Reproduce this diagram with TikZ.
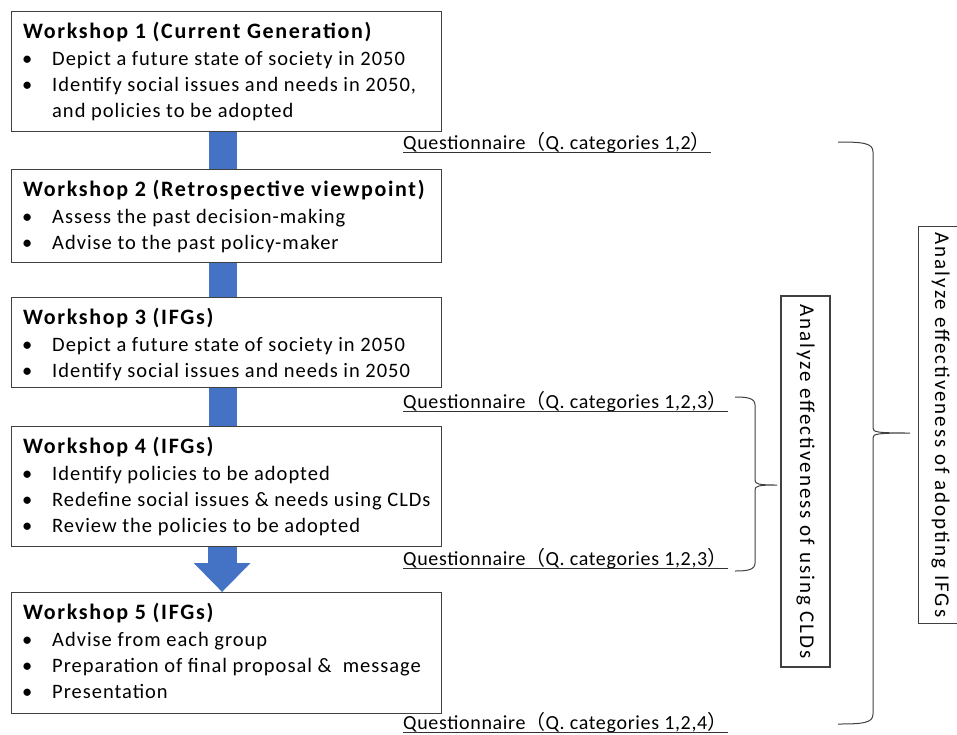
\documentclass[tikz,border=0pt]{standalone}
\usepackage{fontspec}
\setmainfont{Carlito}
\newfontfamily\cjkfont{Noto Sans CJK JP}
\usetikzlibrary{arrows.meta,calc}
\definecolor{arrowblue}{HTML}{4472C4}
\definecolor{boxline}{HTML}{404040}
\newcommand\mybrace[7]{% left-end x, vertical x, tip x, top y, tip y, bottom y, end curve length
  \draw[bracestyle] (#1,#4) .. controls (#2-#7,#4) and (#2,#4+1) .. (#2,#4+#7)
    -- (#2,#5-5) .. controls (#2,#5-1) and (#2+3,#5) .. (#3,#5)
    .. controls (#2+3,#5) and (#2,#5+1) .. (#2,#5+5)
    -- (#2,#6-#7) .. controls (#2,#6-1) and (#2-#7,#6) .. (#1,#6);}
\begin{document}
\begin{tikzpicture}[x=1pt,y=-1pt,
  wsbox/.style={draw=boxline, line width=1.2pt, minimum width=430pt, inner sep=0pt, anchor=north west},
  wtitle/.style={font=\fontsize{22}{26}\selectfont\bfseries\addfontfeatures{LetterSpace=7.6}, anchor=base west, inner sep=0pt},
  witem/.style={font=\fontsize{20.5}{24}\selectfont\addfontfeatures{LetterSpace=4.8}, anchor=base west, inner sep=0pt},
  qtext/.style={font=\fontsize{20}{24}\selectfont\addfontfeatures{LetterSpace=3.3}, anchor=base west, inner sep=0pt},
  uline/.style={line width=1pt, draw=black!80},
  shaft/.style={line width=28pt, draw=arrowblue},
  bigarrow/.style={line width=29pt, draw=arrowblue, -{Triangle[width=55pt,length=29pt]}},
  bracestyle/.style={line width=1pt, draw=black!75},
  rotbox/.style={draw=boxline, line width=1.2pt, rotate=-90, inner sep=0pt, font=\fontsize{21}{25}\selectfont\addfontfeatures{LetterSpace=9.5}}
]
\useasboundingbox (0,0) rectangle (957,734);

% workshop boxes
\node[wsbox, minimum height=120pt] (w1) at (11,11) {};
\node[wsbox, minimum height=93pt] (w2) at (11,169) {};
\node[wsbox, minimum height=90pt] (w3) at (11,297) {};
\node[wsbox, minimum height=120pt] (w4) at (11,426) {};
\node[wsbox, minimum height=121pt] (w5) at (11,592) {};

% box 1
\node[wtitle] (t1) at ($(w1.north west)+(12,27)$) {Workshop 1 (Current Generation)};
\node[witem] (b1a) at ($(w1.north west)+(11,54)$) {•};
\node[witem] (i1a) at ($(w1.north west)+(41,54)$) {Depict a future state of society in 2050};
\node[witem] (b1b) at ($(w1.north west)+(11,80)$) {•};
\node[witem] (i1b) at ($(w1.north west)+(41,80)$) {Identify social issues and needs in 2050,};
\node[witem] (i1c) at ($(w1.north west)+(41,106)$) {and policies to be adopted};

% box 2
\node[wtitle] (t2) at ($(w2.north west)+(12,27)$) {Workshop 2 (Retrospective viewpoint)};
\node[witem] (b2a) at ($(w2.north west)+(11,54)$) {•};
\node[witem] (i2a) at ($(w2.north west)+(41,54)$) {Assess the past decision-making};
\node[witem] (b2b) at ($(w2.north west)+(11,80)$) {•};
\node[witem] (i2b) at ($(w2.north west)+(41,80)$) {Advise to the past policy-maker};

% box 3
\node[wtitle] (t3) at ($(w3.north west)+(12,27)$) {Workshop 3 (IFGs)};
\node[witem] (b3a) at ($(w3.north west)+(11,54)$) {•};
\node[witem] (i3a) at ($(w3.north west)+(41,54)$) {Depict a future state of society in 2050};
\node[witem] (b3b) at ($(w3.north west)+(11,80)$) {•};
\node[witem] (i3b) at ($(w3.north west)+(41,80)$) {Identify social issues and needs in 2050};

% box 4
\node[wtitle] (t4) at ($(w4.north west)+(12,27)$) {Workshop 4 (IFGs)};
\node[witem] (b4a) at ($(w4.north west)+(11,54)$) {•};
\node[witem] (i4a) at ($(w4.north west)+(41,54)$) {Identify policies to be adopted};
\node[witem] (b4b) at ($(w4.north west)+(11,80)$) {•};
\node[witem] (i4b) at ($(w4.north west)+(41,80)$) {Redefine social issues \& needs using CLDs};
\node[witem] (b4c) at ($(w4.north west)+(11,106)$) {•};
\node[witem] (i4c) at ($(w4.north west)+(41,106)$) {Review the policies to be adopted};

% box 5
\node[wtitle] (t5) at ($(w5.north west)+(12,27)$) {Workshop 5 (IFGs)};
\node[witem] (b5a) at ($(w5.north west)+(11,54)$) {•};
\node[witem] (i5a) at ($(w5.north west)+(41,54)$) {Advise from each group};
\node[witem] (b5b) at ($(w5.north west)+(11,80)$) {•};
\node[witem] (i5b) at ($(w5.north west)+(41,80)$) {Preparation of final proposal \&\ \ message};
\node[witem] (b5c) at ($(w5.north west)+(11,106)$) {•};
\node[witem] (i5c) at ($(w5.north west)+(41,106)$) {Presentation};

% arrows
\draw[shaft] ([xshift=-4pt]w1.south) -- ([xshift=-4pt]w2.north);
\draw[shaft] ([xshift=-4pt]w2.south) -- ([xshift=-4pt]w3.north);
\draw[shaft] ([xshift=-4pt]w3.south) -- ([xshift=-4pt]w4.north);
\draw[bigarrow] ([xshift=-4.5pt]w4.south) -- ([xshift=-4.5pt]w5.north);

% questionnaires
\node[qtext] (q1) at (403,149) {Questionnaire{\cjkfont （}Q. categories 1,2{\cjkfont ）}};
\node[qtext] (q2) at (403,408) {Questionnaire{\cjkfont （}Q. categories 1,2,3{\cjkfont ）}};
\node[qtext] (q3) at (403,565) {Questionnaire{\cjkfont （}Q. categories 1,2,3{\cjkfont ）}};
\node[qtext] (q4) at (403,729) {Questionnaire{\cjkfont （}Q. categories 1,2,4{\cjkfont ）}};
\draw[uline] ([yshift=-3pt]q1.base west) -- ([yshift=-3pt]q1.base east);
\draw[uline] ([yshift=-3pt]q2.base west) -- ([yshift=-3pt]q2.base east);
\draw[uline] ([yshift=-3pt]q3.base west) -- ([yshift=-3pt]q3.base east);
\draw[uline] ([yshift=-3pt]q4.base west) -- ([yshift=-3pt]q4.base east);

% analysis boxes
\node[rotbox, minimum width=371pt, minimum height=49pt] (cld) at (805.5,481.5) {Analyze effectiveness of using CLDs};
\node[rotbox, minimum width=397pt, minimum height=44pt, anchor=south] (ifg) at (918,425) {Analyze effectiveness of adopting IFGs};

% braces
\mybrace{735}{755}{777}{397}{485}{571}{8}
\mybrace{838}{873}{910}{142}{433}{724}{10}
\end{tikzpicture}
\end{document}
